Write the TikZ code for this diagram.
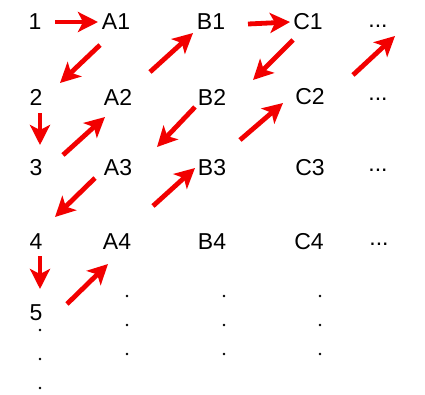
\documentclass[tikz,border=0pt]{standalone}
\usepackage{fontspec}
\setmainfont{Liberation Sans}
\usetikzlibrary{arrows.meta,calc}
\begin{document}
\begin{tikzpicture}[x=1pt,y=-1pt,
  cell/.style={inner sep=0pt,font=\fontsize{23}{27}\selectfont,text=black},
  vdot/.style={circle,fill=black,inner sep=0pt,minimum size=2.8pt},
  redarrow/.style={draw=red!95!black,line width=4.8pt,
    -{Stealth[length=20pt,width=20pt,inset=5pt]}}]
\fill[white] (0,0) rectangle (425,394);
\useasboundingbox (0,0) rectangle (425,394);
% row 1
\node[cell] (n1) at (35,22) {1};
\node[cell] (A1) at (116,22) {A1};
\node[cell] (B1) at (211,22) {B1};
\node[cell] (C1) at (308,22) {C1};
\node[cell] (D1) at (378,26) {...};
% row 2
\node[cell] (n2) at (36,97) {2};
\node[cell] (A2) at (118,97) {A2};
\node[cell] (B2) at (212,97) {B2};
\node[cell] (C2) at (310,97) {C2};
\node[cell] (D2) at (378,99) {...};
% row 3
\node[cell] (n3) at (36,168) {3};
\node[cell] (A3) at (118,168) {A3};
\node[cell] (B3) at (212,168) {B3};
\node[cell] (C3) at (310,168) {C3};
\node[cell] (D3) at (378,170) {...};
% row 4
\node[cell] (n4) at (36,242) {4};
\node[cell] (A4) at (117,242) {A4};
\node[cell] (B4) at (212,242) {B4};
\node[cell] (C4) at (309,242) {C4};
\node[cell] (D4) at (379,244) {...};
% row 5
\node[cell] (n5) at (36,313) {5};
% vertical dots
\node[vdot] (p1) at (40,330) {};
\node[vdot] (p2) at (40,359) {};
\node[vdot] (p3) at (40,388) {};
\foreach \x/\c in {127/a,224/b,320/c}{
  \node[vdot] (\c1) at (\x,296) {};
  \node[vdot] (\c2) at (\x,325) {};
  \node[vdot] (\c3) at (\x,354) {};
}
% arrows
\draw[redarrow] ($(n1)+(20,0)$) -- ($(A1)+(-18,0)$);
\draw[redarrow] ($(A1)+(-16,23)$) -- ($(n2)+(24,-14)$);
\draw[redarrow] ($(n2)+(4,16)$) -- ($(n3)+(4,-23)$);
\draw[redarrow] ($(n3)+(27,-13)$) -- ($(A2)+(-13,20)$);
\draw[redarrow] ($(A2)+(32,-25)$) -- ($(B1)+(-18,11)$);
\draw[redarrow] ($(B1)+(37,2)$) -- ($(C1)+(-18,0)$);
\draw[redarrow] ($(C1)+(-15,18)$) -- ($(B2)+(41,-17)$);
\draw[redarrow] ($(B2)+(-17,10)$) -- ($(A3)+(39,-21)$);
\draw[redarrow] ($(A3)+(-23,10)$) -- ($(n4)+(19,-25)$);
\draw[redarrow] ($(n4)+(4,14)$) -- ($(n5)+(4,-24)$);
\draw[redarrow] ($(n5)+(31,-9)$) -- ($(A4)+(-9,22)$);
\draw[redarrow] ($(A4)+(36,-36)$) -- ($(B3)+(-17,0)$);
\draw[redarrow] ($(B3)+(28,-28)$) -- ($(C2)+(-27,6)$);
\draw[redarrow] ($(C2)+(43,-22)$) -- ($(D1)+(17,10)$);
\end{tikzpicture}
\end{document}
